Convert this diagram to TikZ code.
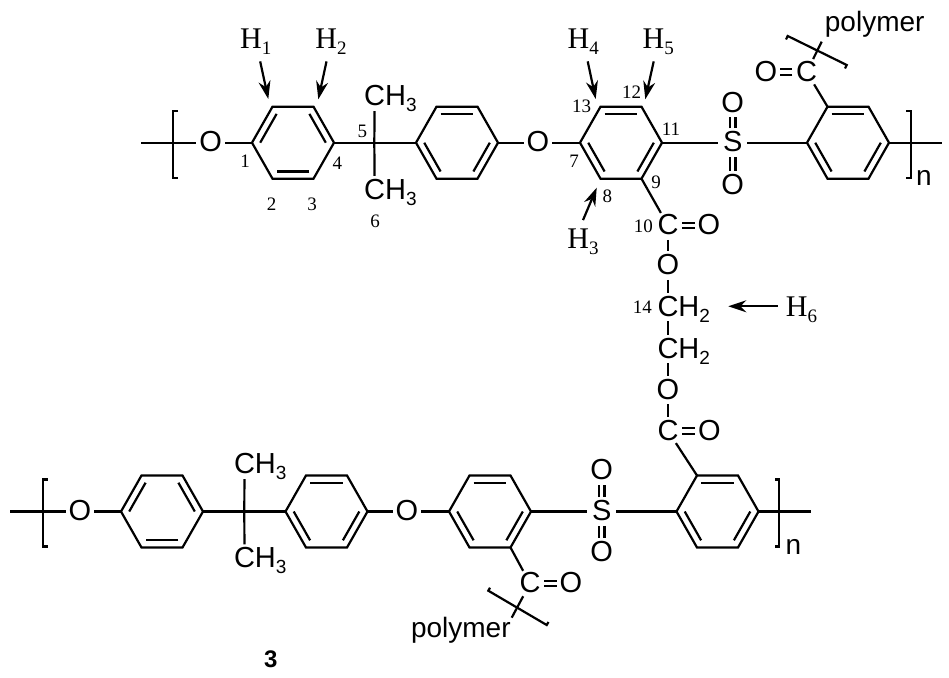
\documentclass[tikz,border=0pt]{standalone}
\usepackage{fontspec}
\setmainfont{Liberation Serif}
\setsansfont{Liberation Sans}
\usetikzlibrary{arrows.meta, calc}

\newcommand{\lowidx}[1]{\raisebox{-6pt}{\fontsize{19}{19}\selectfont #1}}
% hexagon: name, x, y, edges with an inner line
\newcommand{\benzene}[4]{
    \coordinate (#1c) at (#2,#3);
    \foreach \v/\dx/\dy in {1/-41/0, 2/-20.5/-36, 3/20.5/-36, 4/41/0, 5/20.5/36, 6/-20.5/36}
        \coordinate (#1\v) at (#2+\dx,#3+\dy);
    \draw[bond] (#11) -- (#12) -- (#13) -- (#14) -- (#15) -- (#16) -- cycle;
    \foreach \p/\q in {#4}
        \draw[bond] ($(#1\p)!0.2!(#1c)$) -- ($(#1\q)!0.2!(#1c)$);
}

\tikzset{
    bond/.style={line width=2.2pt},
    dbl/.style={line width=2.2pt, double, double distance=3.4pt},
    atom/.style={shape=circle, inner sep=-1pt, minimum size=28.5pt, text height=18.5pt, text depth=0pt,
        font=\sffamily\fontsize{29}{30}\selectfont},
    plain/.style={inner sep=0pt, font=\sffamily\fontsize{28}{30}\selectfont},
    proton/.style={inner sep=8pt, text height=20pt, text depth=5pt, font=\fontsize{30}{30}\selectfont},
    carbon/.style={inner sep=0pt, font=\fontsize{19}{19}\selectfont},
    pointer/.style={line width=2.2pt, -{Stealth[length=18pt, width=12pt]}}
}

\begin{document}
\begin{tikzpicture}[x=1pt, y=-1pt]
    \useasboundingbox (0,0) rectangle (949,677);

    % upper chain
    \benzene{a}{293}{142.7}{1/2, 3/4, 5/6}
    \benzene{b}{457}{142.7}{2/3, 4/5, 6/1}
    \benzene{f}{621}{142.7}{2/3, 4/5, 6/1}
    \benzene{d}{848}{142.7}{2/3, 4/5, 6/1}
    \coordinate (endl1) at (141,142.7);
    \coordinate (endr1) at (941.7,142.7);
    \coordinate (q1) at (374.3,142.7);
    \node[atom] (o1) at (210.7,142.7) {O};
    \node[atom] (o2) at (538,142.7) {O};
    \node[atom] (s1) at (732.7,142.7) {S};
    \node[atom] (o3) at (732.7,103) {O};
    \node[atom] (o4) at (732.7,185) {O};
    \node[atom] (me1) at (374.7,96.7) {C\rlap{H\lowidx{3}}};
    \node[atom] (me2) at (374.7,190.4) {C\rlap{H\lowidx{3}}};

    % side groups of the upper chain
    \node[atom] (c20) at (806.7,72) {C};
    \node[atom] (o20) at (766,72) {O};
    \coordinate (cut1) at (821.7,41.7);
    \node[atom] (c10) at (668,225.5) {C};
    \node[atom] (o10) at (709,225.5) {O};
    \node[atom] (o11) at (668,265.5) {O};
    \node[atom] (c14) at (668,307) {C\rlap{H\lowidx{2}}};
    \node[atom] (c15) at (668,349) {C\rlap{H\lowidx{2}}};
    \node[atom] (o15) at (668,390) {O};
    \node[atom] (c16) at (668,431) {C};
    \node[atom] (o16) at (709.5,431) {O};

    % lower chain
    \benzene{g}{162}{511.5}{1/2, 3/4, 5/6}
    \benzene{h}{326.5}{511.5}{2/3, 4/5, 6/1}
    \benzene{e}{490}{511.5}{2/3, 4/5, 6/1}
    \benzene{k}{717.5}{511.5}{2/3, 4/5, 6/1}
    \coordinate (endl2) at (10,511.5);
    \coordinate (endr2) at (810.7,511.5);
    \coordinate (q2) at (244.3,511.5);
    \node[atom] (o5) at (80,511.5) {O};
    \node[atom] (o6) at (407,511.5) {O};
    \node[atom] (s2) at (601.7,511.5) {S};
    \node[atom] (o7) at (601.7,470.5) {O};
    \node[atom] (o8) at (601.7,552.5) {O};
    \node[atom] (me3) at (244.5,464.7) {C\rlap{H\lowidx{3}}};
    \node[atom] (me4) at (244.5,558.7) {C\rlap{H\lowidx{3}}};
    \node[atom] (c30) at (530,583.5) {C};
    \node[atom] (o30) at (571,583.5) {O};
    \coordinate (cut2) at (511.7,617.7);

    \path[bond]
    (endl1) edge (o1)
    (o1) edge (a1)
    (a4) edge (q1)
    (q1) edge (b1)
    (q1) edge (me1)
    (q1) edge (me2)
    (b4) edge (o2)
    (o2) edge (f1)
    (f4) edge (s1)
    (s1) edge (d1)
    (d4) edge (endr1)
    (d2) edge (c20)
    (c20) edge (cut1)
    (f5) edge (c10)
    (c10) edge (o11)
    (o11) edge (c14)
    (c14) edge (c15)
    (c15) edge (o15)
    (o15) edge (c16)
    (c16) edge (k2)
    (endl2) edge (o5)
    (o5) edge (g1)
    (g4) edge (q2)
    (q2) edge (h1)
    (q2) edge (me3)
    (q2) edge (me4)
    (h4) edge (o6)
    (o6) edge (e1)
    (e4) edge (s2)
    (s2) edge (k1)
    (k4) edge (endr2)
    (e5) edge (c30)
    (c30) edge (cut2)
    (s1) edge [dbl] (o3)
    (s1) edge [dbl] (o4)
    (s2) edge [dbl] (o7)
    (s2) edge [dbl] (o8)
    (c20) edge [dbl] (o20)
    (c10) edge [dbl] (o10)
    (c16) edge [dbl] (o16)
    (c30) edge [dbl] (o30)
    ;

    % brackets
    \draw[bond] (178,110.7) -- (173,110.7) -- (173,178) -- (178,178);
    \draw[bond] (906,110.7) -- (910.7,110.7) -- (910.7,178) -- (906,178);
    \draw[bond] (47.7,479.5) -- (42.7,479.5) -- (42.7,546.5) -- (47.7,546.5);
    \draw[bond] (775,479.5) -- (779.3,479.5) -- (779.3,546.5) -- (775,546.5);
    \draw[bond] (786,39.5) -- (787.7,36) -- (846.7,65) -- (845,68.5);
    \draw[bond] (490,587.7) -- (488.3,590.7) -- (546.7,625) -- (548.5,622);

    \node[plain, anchor=base] (n1) at (924,185.7) {n};
    \node[plain, anchor=base] (n2) at (793.3,554.3) {n};
    \node[plain, anchor=base] (poly1) at (874.7,31.7) {polymer};
    \node[plain, anchor=base] (poly2) at (460.8,637.3) {polymer};
    \node[plain, anchor=base, font=\sffamily\bfseries\fontsize{24}{24}\selectfont] (three) at (270.7,667.3) {3};

    % numbering
    \node[carbon] (l1) at (245,161.7) {1};
    \node[carbon] (l2) at (271.7,204) {2};
    \node[carbon] (l3) at (312,204) {3};
    \node[carbon] (l4) at (337.3,163) {4};
    \node[carbon] (l5) at (362.3,131) {5};
    \node[carbon] (l6) at (375,221.7) {6};
    \node[carbon] (l7) at (574,161.7) {7};
    \node[carbon] (l8) at (607.3,196.7) {8};
    \node[carbon] (l9) at (656,182.7) {9};
    \node[carbon] (l10) at (643.3,226) {10};
    \node[carbon] (l11) at (671,129) {11};
    \node[carbon] (l12) at (631.7,92.7) {12};
    \node[carbon] (l13) at (581.7,106.7) {13};
    \node[carbon] (l14) at (642.3,307.3) {14};

    % assignment of the protons
    \node[proton] (h1) at (255.7,40.7) {H\lowidx{1}};
    \node[proton] (h2) at (331,40.7) {H\lowidx{2}};
    \node[proton] (h3) at (583,240.8) {H\lowidx{3}};
    \node[proton] (h4) at (583.3,40.7) {H\lowidx{4}};
    \node[proton] (h5) at (658.3,40.7) {H\lowidx{5}};
    \node[proton] (h6) at (801.5,308.5) {H\lowidx{6}};
    \coordinate (t1) at (268.3,99);
    \coordinate (t2) at (318.3,99.3);
    \coordinate (t3) at (596.7,187.7);
    \coordinate (t4) at (595.7,99);
    \coordinate (t5) at (645.3,99.3);
    \coordinate (t6) at (728.3,306.3);

    \path[pointer]
    (h1) edge (t1)
    (h2) edge (t2)
    (h3.north) edge (t3)
    (h4) edge (t4)
    (h5) edge (t5)
    ([yshift=2.2pt]h6.west) edge (t6)
    ;
\end{tikzpicture}
\end{document}
